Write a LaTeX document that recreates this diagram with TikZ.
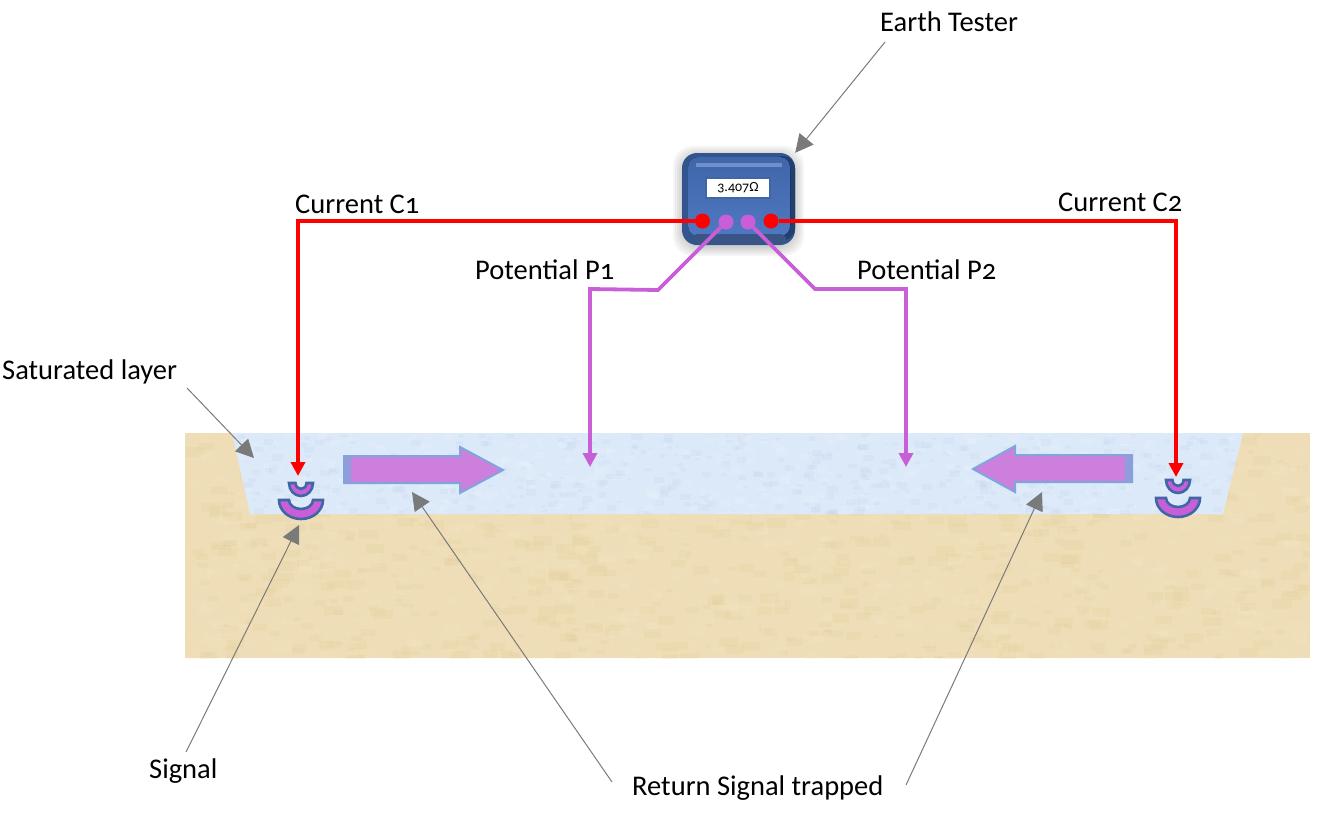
\documentclass[tikz,border=0pt]{standalone}
\usepackage{fontspec}
\setmainfont[Numbers=OldStyle]{Carlito}
\definecolor{sand}{HTML}{EEDDB6}
\definecolor{sandlight}{HTML}{F8EBCA}
\definecolor{sanddark}{HTML}{E0CA98}
\definecolor{water}{HTML}{DCE9F8}
\definecolor{waterlight}{HTML}{EAF3FC}
\definecolor{waterdark}{HTML}{C6D8EE}
\definecolor{violet}{HTML}{C95FD6}
\definecolor{arrowfill}{HTML}{CC7FDC}
\definecolor{arrowedge}{HTML}{7FA6DA}
\definecolor{markedge}{HTML}{3F66A5}
\definecolor{leader}{HTML}{7A7A7A}
\definecolor{caseedge}{HTML}{33558F}
\definecolor{casetop}{HTML}{3F66A8}
\definecolor{casebottom}{HTML}{5078C2}
\definecolor{caseshine}{HTML}{6E8FCB}
\definecolor{casefoot}{HTML}{3A5486}
\definecolor{casedark}{HTML}{22406F}
\usetikzlibrary{arrows.meta}

\begin{document}
\begin{tikzpicture}[x=1pt,y=-1pt]
	\tikzset{lbl/.style={font=\fontsize{28.5}{32}\selectfont,inner sep=0pt,anchor=base west}}
	\tikzset{leaderline/.style={draw=leader,line width=1pt,-{Triangle[length=18pt,width=18pt,fill=leader]}}}
	\tikzset{redline/.style={draw=red,line width=4pt,-{Triangle[length=14pt,width=14pt]}}}
	\tikzset{violetline/.style={draw=violet,line width=3.8pt,-{Triangle[length=14pt,width=14pt]}}}
	\tikzset{redport/.style={circle,fill=red,minimum size=15pt,inner sep=0pt}}
	\tikzset{violetport/.style={circle,fill=violet,minimum size=15pt,inner sep=0pt}}
	\tikzset{bigarrow/.style={fill=arrowfill,draw=arrowedge,line width=2pt,line join=miter}}
	\tikzset{signalmark/.style={fill=violet,draw=markedge,line width=2.6pt}}
	\useasboundingbox (0,0) rectangle (1339,812);
	\pgfmathsetseed{11}
	% ground and saturated layer
	\fill[sand] (185,433) rectangle (1310,658);
	\begin{scope}
		\clip (185,433) rectangle (1310,658);
		\foreach \n in {1,...,1400}{
			\pgfmathsetmacro{\bx}{185+1125*rnd}
			\pgfmathsetmacro{\by}{433+225*rnd}
			\pgfmathsetmacro{\bw}{6+14*rnd}
			\pgfmathsetmacro{\bc}{rnd<.5 ? "sandlight" : "sanddark"}
			\fill[\bc,opacity=.18] (\bx,\by) rectangle ++(\bw,.5*\bw);
		}
	\end{scope}
	\fill[water] (232,433) -- (1243,433) -- (1223,514) -- (250,514) -- cycle;
	\begin{scope}
		\clip (232,433) -- (1243,433) -- (1223,514) -- (250,514) -- cycle;
		\foreach \n in {1,...,900}{
			\pgfmathsetmacro{\bx}{232+1011*rnd}
			\pgfmathsetmacro{\by}{433+81*rnd}
			\pgfmathsetmacro{\bw}{3+8*rnd}
			\pgfmathsetmacro{\bc}{rnd<.55 ? "waterlight" : "waterdark"}
			\fill[\bc,opacity=.25] (\bx,\by) rectangle ++(\bw,.6*\bw);
		}
	\end{scope}
	% earth tester
	\foreach \s in {9,7,5,3,1}{
		\fill[black,opacity=.04,rounded corners=20pt] (682-\s,155-\s) rectangle (795+\s,247+\s);
	}
	\node[minimum width=113pt,minimum height=92pt,inner sep=0pt,rounded corners=15pt,fill=caseedge] (tester) at (738.5,199) {};
	\fill[casedark,rounded corners=12pt] (770,156) rectangle (795,240);
	\fill[rounded corners=10pt,top color=casetop,bottom color=casebottom] (688,157) rectangle (790,236);
	\fill[casefoot,rounded corners=6pt] (692,234) rectangle (786,243);
	\fill[caseshine] (696,163) rectangle (782,167);
	\node[fill=white,draw=markedge,line width=1.2pt,minimum width=64pt,minimum height=20pt,inner sep=0pt,font=\fontsize{14}{16}\selectfont] (display) at (738,188) {3.407Ω};
	\node[redport] (c1) at (702.5,221) {};
	\node[redport] (c2) at (771,221) {};
	\node[violetport] (p1) at (726,222) {};
	\node[violetport] (p2) at (748,222) {};
	% big arrows
	\draw[bigarrow] (344,456) -- (460,456) -- (460,447) -- (503,470) -- (460,493) -- (460,483) -- (344,483) -- cycle;
	\draw[bigarrow] (1132,455) -- (1015,455) -- (1015,446) -- (973,469) -- (1015,492) -- (1015,482) -- (1132,482) -- cycle;
	\fill[arrowedge!80!arrowfill] (344,456) rectangle (351,483);
	\fill[arrowedge!80!arrowfill] (1125,455) rectangle (1132,482);
	% signal marks
	\foreach \sx/\sy/\ty in {301/483/500,1178/480/498}{
		\draw[signalmark] (\sx-12,\sy) arc[start angle=180,end angle=0,x radius=12,y radius=13] -- ++(-6.5,0) arc[start angle=0,end angle=180,x radius=5.5,y radius=6] -- cycle;
		\draw[signalmark] (\sx-22,\ty) arc[start angle=180,end angle=0,x radius=22,y radius=19] -- ++(-10,0) arc[start angle=0,end angle=180,x radius=12,y radius=9] -- cycle;
	}
	% labels
	\node[lbl] (earth) at (880,31) {Earth Tester};
	\node[lbl] (curone) at (295,213) {Current C1};
	\node[lbl] (curtwo) at (1058,211) {Current C2};
	\node[lbl] (potone) at (475,279) {Potential P1};
	\node[lbl] (pottwo) at (857,279) {Potential P2};
	\node[lbl] (satur) at (2,379) {Saturated layer};
	\node[lbl] (signal) at (149,778) {Signal};
	\node[lbl] (retur) at (632,795) {Return Signal trapped};
	% free ends
	\coordinate (redl) at (298,476);
	\coordinate (redr) at (1176,477);
	\coordinate (bendp1a) at (658,290);
	\coordinate (bendp1b) at (590,289);
	\coordinate (bendp2a) at (815,289);
	\coordinate (bendp2b) at (906,289);
	\coordinate (downp1) at (590,467);
	\coordinate (downp2) at (906,467);
	% connectors
	\draw[redline] (c1) -| (redl);
	\draw[redline] (c2) -| (redr);
	\draw[violetline] (p1) -- (bendp1a) -- (bendp1b) -- (downp1);
	\draw[violetline] (p2) -- (bendp2a) -- (bendp2b) -- (downp2);
	% leaders
	\coordinate (earthfrom) at (885,42);
	\coordinate (saturfrom) at (187,388);
	\coordinate (saturto) at (254,458);
	\coordinate (signalfrom) at (186,752);
	\coordinate (signalto) at (299,525);
	\coordinate (returfroma) at (612,782);
	\coordinate (returtoa) at (412,492);
	\coordinate (returfromb) at (906,785);
	\coordinate (returtob) at (1042,492);
	\draw[leaderline] (earthfrom) -- (tester.north east);
	\draw[leaderline] (saturfrom) -- (saturto);
	\draw[leaderline] (signalfrom) -- (signalto);
	\draw[leaderline] (returfroma) -- (returtoa);
	\draw[leaderline] (returfromb) -- (returtob);
\end{tikzpicture}
\end{document}
